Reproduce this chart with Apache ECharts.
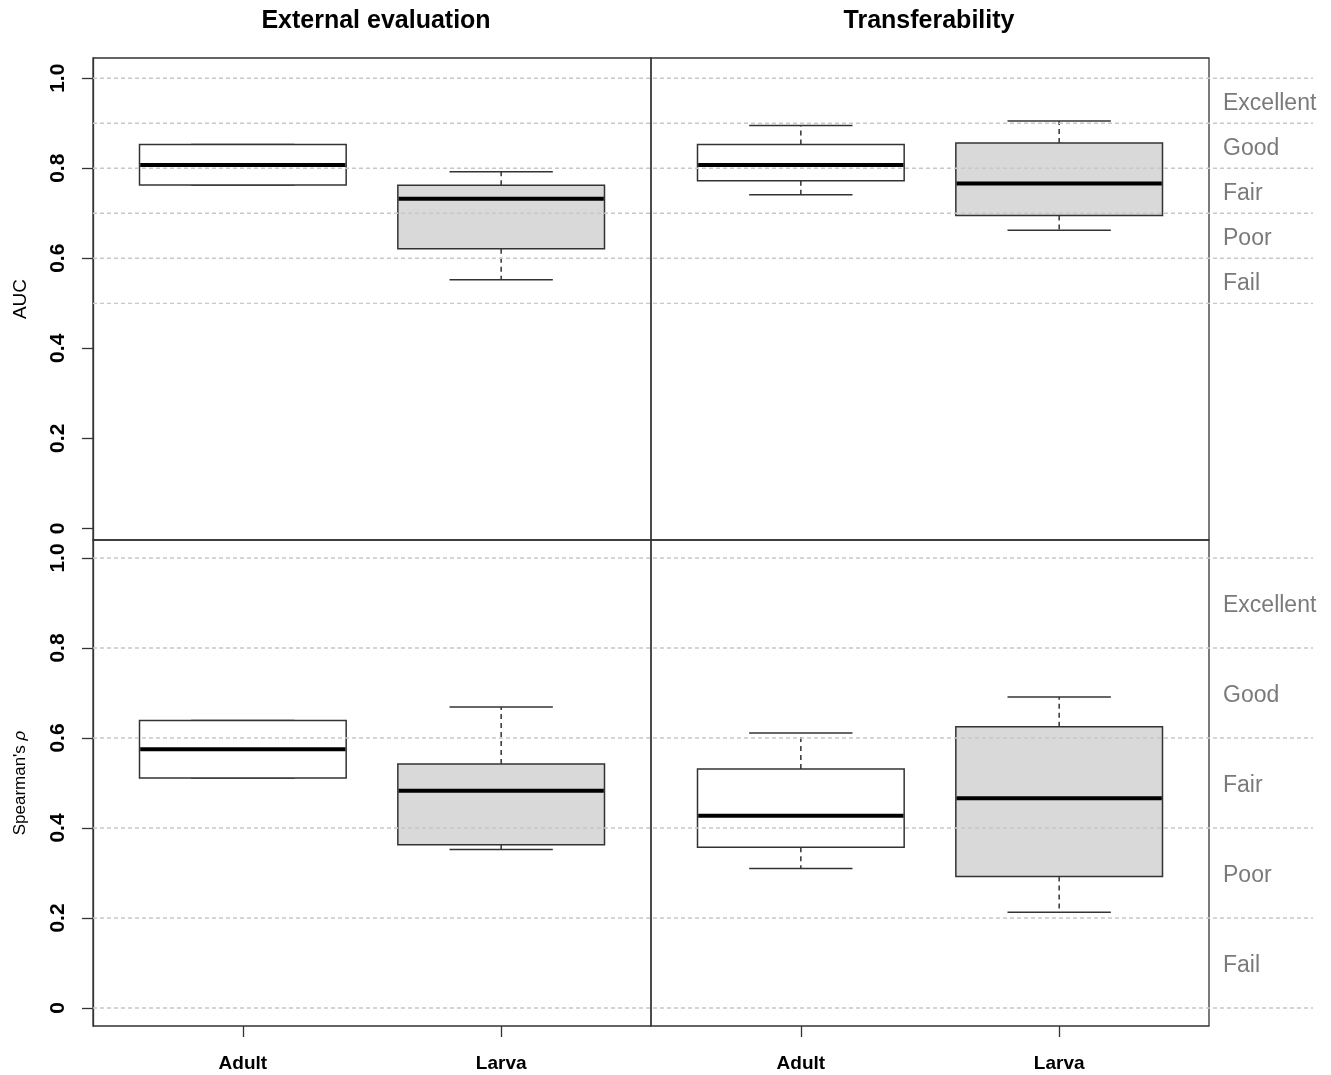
<!DOCTYPE html>
<html>
<head>
<meta charset="utf-8">
<script src="https://cdn.jsdelivr.net/npm/echarts@6/dist/echarts.min.js"></script>
<style>
  html, body { margin: 0; padding: 0; background: #fff; }
  #chart { width: 1331px; height: 1075px; }
</style>
</head>
<body>
<div id="chart"></div>
<script>
// ---------- data ----------
const groups = ['Adult', 'Larva'];
const panelTitles = ['External evaluation', 'Transferability'];
const rowNames = ['AUC', "Spearman's {i|ρ}"];
// [min, Q1, median, Q3, max]
const aucExternal = [[0.763, 0.763, 0.807, 0.853, 0.853], [0.552, 0.621, 0.732, 0.762, 0.792]];
const aucTransfer = [[0.741, 0.772, 0.807, 0.853, 0.895], [0.662, 0.695, 0.766, 0.856, 0.905]];
const rhoExternal = [[0.511, 0.511, 0.575, 0.639, 0.639], [0.352, 0.363, 0.483, 0.542, 0.669]];
const rhoTransfer = [[0.310, 0.357, 0.427, 0.531, 0.611], [0.213, 0.292, 0.466, 0.625, 0.691]];
const aucBreaks = [0.5, 0.6, 0.7, 0.8, 0.9, 1.0];
const rhoBreaks = [0, 0.2, 0.4, 0.6, 0.8, 1.0];
const classLabels = ['Fail', 'Poor', 'Fair', 'Good', 'Excellent'];
const yTicks = [0, 0.2, 0.4, 0.6, 0.8, 1.0];
const xTicks = [1, 2];

// ---------- styling / layout ----------
const FONT = "'Liberation Sans', Arial, Helvetica, sans-serif";
const fills = ['#ffffff', '#d9d9d9'];
const LINE = '#333333';
const topRange = { min: -0.026, max: 1.045 };
const botRange = { min: -0.04, max: 1.04 };

const grids = [
  { left: 93, top: 58, width: 558, height: 482 },   // 0 top-left
  { left: 651, top: 58, width: 558, height: 482 },  // 1 top-right
  { left: 93, top: 540, width: 558, height: 486 },  // 2 bottom-left
  { left: 651, top: 540, width: 558, height: 486 }, // 3 bottom-right
  { left: 93, top: 58, width: 1220, height: 482 },  // 4 overlay top
  { left: 93, top: 540, width: 1220, height: 486 }  // 5 overlay bottom
].map((g, i) => Object.assign({
  show: i < 4, borderColor: LINE, borderWidth: 1.3, backgroundColor: 'transparent',
  containLabel: false, outerBoundsMode: 'none'
}, g));

function xAxisFor(i) {
  const isBottom = i === 2 || i === 3;
  return {
    type: 'value', gridIndex: i, min: 0.42, max: 2.58, position: 'bottom',
    axisLine: { show: false, onZero: false }, splitLine: { show: false },
    axisTick: { show: isBottom, inside: false, customValues: xTicks, length: 11, lineStyle: { color: LINE, width: 1.3 } },
    axisLabel: {
      show: isBottom, customValues: xTicks, margin: 28,
      formatter: v => groups[Math.round(v) - 1] || '',
      fontFamily: FONT, fontWeight: 'bold', fontSize: 19, color: '#000'
    }
  };
}
function yAxisFor(i) {
  const range = (i === 0 || i === 1) ? topRange : botRange;
  const isLeft = i === 0 || i === 2;
  return {
    type: 'value', gridIndex: i, min: range.min, max: range.max,
    name: isLeft ? rowNames[i === 0 ? 0 : 1] : '',
    nameLocation: 'middle', nameRotate: 90, nameGap: i === 0 ? 63 : 64,
    nameTextStyle: {
      fontFamily: FONT, fontSize: i === 0 ? 19 : 17, color: '#000',
      rich: { i: { fontFamily: FONT, fontSize: 17, fontStyle: 'italic', color: '#000' } }
    },
    axisLine: { show: isLeft, onZero: false, lineStyle: { color: LINE, width: 1.3 } },
    splitLine: { show: false },
    axisTick: { show: isLeft, customValues: yTicks, length: 11, lineStyle: { color: LINE, width: 1.3 } },
    axisLabel: {
      show: isLeft, customValues: yTicks, rotate: 90, margin: 24,
      formatter: v => (Math.abs(v) < 1e-9 ? '0' : v.toFixed(1)),
      fontFamily: FONT, fontWeight: 'bold', fontSize: 21, color: '#000'
    }
  };
}
const overlayX = i => ({ type: 'value', gridIndex: i, min: 0, max: 1, show: false });
const overlayY = (i, r) => ({ type: 'value', gridIndex: i, min: r.min, max: r.max, show: false });

// ---------- renderers ----------
function renderBox(params, api) {
  const xv = api.value(0);
  const v = [1, 2, 3, 4, 5].map(k => api.value(k));
  const gi = api.value(6);
  const boxW = api.size([0.8, 0])[0];
  const capW = boxW / 2;
  const cx = api.coord([xv, v[2]])[0];
  const y = v.map(val => api.coord([xv, val])[1]);
  const ls = { stroke: LINE, lineWidth: 1.5, fill: null };
  const children = [];
  if (y[4] < y[3] - 0.5) {
    children.push({ type: 'line', shape: { x1: cx, y1: y[3], x2: cx, y2: y[4] }, style: Object.assign({}, ls, { lineDash: [5, 4] }) });
  }
  children.push({ type: 'line', shape: { x1: cx - capW / 2, y1: y[4], x2: cx + capW / 2, y2: y[4] }, style: ls });
  if (y[0] > y[1] + 0.5) {
    children.push({ type: 'line', shape: { x1: cx, y1: y[1], x2: cx, y2: y[0] }, style: Object.assign({}, ls, { lineDash: [5, 4] }) });
  }
  children.push({ type: 'line', shape: { x1: cx - capW / 2, y1: y[0], x2: cx + capW / 2, y2: y[0] }, style: ls });
  children.push({ type: 'rect', shape: { x: cx - boxW / 2, y: y[3], width: boxW, height: y[1] - y[3] },
    style: { fill: fills[gi], stroke: LINE, lineWidth: 1.5 } });
  children.push({ type: 'line', shape: { x1: cx - boxW / 2 + 0.7, y1: y[2], x2: cx + boxW / 2 - 0.7, y2: y[2] },
    style: { stroke: '#000', lineWidth: 4 } });
  return { type: 'group', children };
}
function renderGuide(params, api) {
  const val = api.value(1);
  const p0 = api.coord([0, val]);
  const p1 = api.coord([1, val]);
  return { type: 'line', shape: { x1: p0[0], y1: p0[1], x2: p1[0], y2: p1[1] },
    style: { stroke: '#c8c8c8', lineWidth: 1.3, lineDash: [4, 3] } };
}
function renderClass(params, api) {
  const p = api.coord([1, api.value(1)]);
  return { type: 'text', x: p[0] - 90, y: p[1] + 3,
    style: { text: classLabels[params.dataIndex], fill: '#7a7a7a', fontSize: 23, fontFamily: FONT,
      textAlign: 'left', textVerticalAlign: 'middle' } };
}

const boxData = arr => arr.map((d, i) => [xTicks[i]].concat(d).concat([i]));
const guideData = br => br.map(b => [0, b]);
const classData = br => classLabels.map((c, i) => [1, (br[i] + br[i + 1]) / 2]);

const panels = [aucExternal, aucTransfer, rhoExternal, rhoTransfer];
const series = panels.map((arr, i) => ({
  type: 'custom', xAxisIndex: i, yAxisIndex: i, renderItem: renderBox, z: 3, silent: true,
  encode: { x: 0, y: [1, 2, 3, 4, 5] }, data: boxData(arr)
}));
[[4, aucBreaks], [5, rhoBreaks]].forEach(([gi, br]) => {
  series.push({ type: 'custom', xAxisIndex: gi, yAxisIndex: gi, renderItem: renderGuide, z: 6, silent: true,
    encode: { x: 0, y: 1 }, data: guideData(br) });
  series.push({ type: 'custom', xAxisIndex: gi, yAxisIndex: gi, renderItem: renderClass, z: 6, silent: true,
    encode: { x: 0, y: 1 }, data: classData(br) });
});

const option = {
  animation: false,
  backgroundColor: '#ffffff',
  title: [
    { text: panelTitles[0], left: 376, top: 9, textAlign: 'center', padding: 0,
      textStyle: { fontFamily: FONT, fontWeight: 'bold', fontSize: 25, color: '#000' } },
    { text: panelTitles[1], left: 929, top: 9, textAlign: 'center', padding: 0,
      textStyle: { fontFamily: FONT, fontWeight: 'bold', fontSize: 25, color: '#000' } }
  ],
  grid: grids,
  xAxis: [0, 1, 2, 3].map(xAxisFor).concat([overlayX(4), overlayX(5)]),
  yAxis: [0, 1, 2, 3].map(yAxisFor).concat([overlayY(4, topRange), overlayY(5, botRange)]),
  series: series
};

const chart = echarts.init(document.getElementById('chart'), null, { renderer: 'canvas' });
chart.setOption(option);
</script>
</body>
</html>
